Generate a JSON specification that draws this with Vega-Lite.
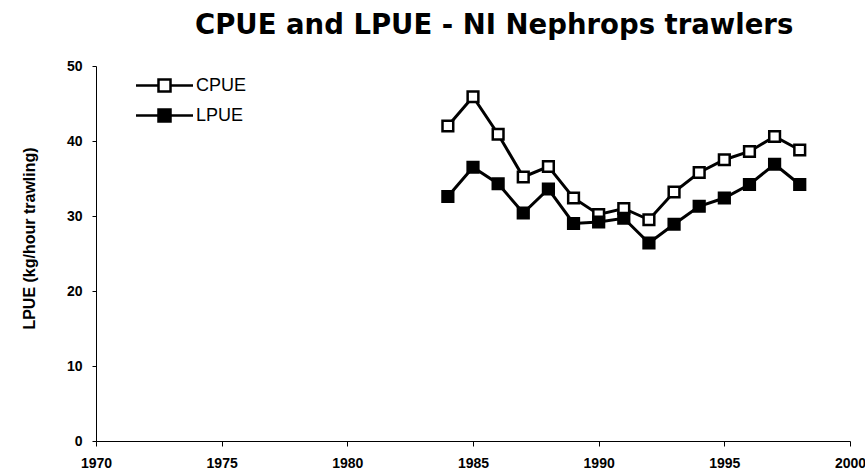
{
  "$schema": "https://vega.github.io/schema/vega-lite/v6.json",
  "width": 754,
  "height": 375,
  "autosize": "none",
  "padding": {"left": 96, "top": 66, "right": 15, "bottom": 33},
  "background": "white",
  "title": {
    "text": "CPUE and LPUE - NI Nephrops  trawlers",
    "anchor": "start",
    "frame": "group",
    "dx": 99,
    "offset": 19.5,
    "font": "DejaVu Sans",
    "fontSize": 27.5,
    "fontWeight": "bold",
    "color": "black"
  },
  "config": {
    "view": {"stroke": null},
    "axis": {
      "labelFont": "Liberation Sans",
      "labelFontSize": 14,
      "labelFontWeight": "bold",
      "labelColor": "black",
      "titleFont": "Liberation Sans",
      "titleColor": "black",
      "domainColor": "black",
      "tickColor": "black",
      "grid": false
    }
  },
  "data": {
    "values": [
      {"year": 1984, "series": "CPUE", "value": 42.0},
      {"year": 1985, "series": "CPUE", "value": 45.9},
      {"year": 1986, "series": "CPUE", "value": 40.9},
      {"year": 1987, "series": "CPUE", "value": 35.2},
      {"year": 1988, "series": "CPUE", "value": 36.6},
      {"year": 1989, "series": "CPUE", "value": 32.4},
      {"year": 1990, "series": "CPUE", "value": 30.2},
      {"year": 1991, "series": "CPUE", "value": 31.0},
      {"year": 1992, "series": "CPUE", "value": 29.5},
      {"year": 1993, "series": "CPUE", "value": 33.2},
      {"year": 1994, "series": "CPUE", "value": 35.8},
      {"year": 1995, "series": "CPUE", "value": 37.5},
      {"year": 1996, "series": "CPUE", "value": 38.6},
      {"year": 1997, "series": "CPUE", "value": 40.6},
      {"year": 1998, "series": "CPUE", "value": 38.8},
      {"year": 1984, "series": "LPUE", "value": 32.6},
      {"year": 1985, "series": "LPUE", "value": 36.5},
      {"year": 1986, "series": "LPUE", "value": 34.3},
      {"year": 1987, "series": "LPUE", "value": 30.4},
      {"year": 1988, "series": "LPUE", "value": 33.6},
      {"year": 1989, "series": "LPUE", "value": 29.0},
      {"year": 1990, "series": "LPUE", "value": 29.2},
      {"year": 1991, "series": "LPUE", "value": 29.7},
      {"year": 1992, "series": "LPUE", "value": 26.4},
      {"year": 1993, "series": "LPUE", "value": 28.9},
      {"year": 1994, "series": "LPUE", "value": 31.3},
      {"year": 1995, "series": "LPUE", "value": 32.4},
      {"year": 1996, "series": "LPUE", "value": 34.2},
      {"year": 1997, "series": "LPUE", "value": 36.9},
      {"year": 1998, "series": "LPUE", "value": 34.2}
    ]
  },
  "encoding": {
    "x": {
      "field": "year",
      "type": "quantitative",
      "scale": {"domain": [1970, 2000], "nice": false, "zero": false},
      "axis": {
        "title": null,
        "values": [1970, 1975, 1980, 1985, 1990, 1995, 2000],
        "format": "d",
        "labelFlush": false,
        "tickSize": 5,
        "labelPadding": 10
      }
    },
    "y": {
      "field": "value",
      "type": "quantitative",
      "scale": {"domain": [0, 50], "nice": false},
      "axis": {
        "title": "LPUE (kg/hour trawling)",
        "titleFontSize": 16,
        "titleFontWeight": "bold",
        "titlePadding": 29,
        "titleY": 172,
        "values": [0, 10, 20, 30, 40, 50],
        "tickSize": 4,
        "labelPadding": 10
      }
    }
  },
  "layer": [
    {
      "mark": {"type": "line", "color": "black", "strokeWidth": 3},
      "encoding": {"detail": {"field": "series"}}
    },
    {
      "mark": {"type": "point", "shape": "square", "filled": true, "size": 115, "stroke": "black", "strokeWidth": 2.5, "opacity": 1},
      "encoding": {
        "fill": {
          "field": "series",
          "type": "nominal",
          "scale": {"domain": ["CPUE", "LPUE"], "range": ["white", "black"]},
          "legend": {
            "title": null,
            "orient": "none",
            "legendX": 55,
            "legendY": 6,
            "symbolType": "M-2.375,0H-0.5M0.5,0H2.375M-0.5,-0.5H0.5V0.5H-0.5Z",
            "symbolSize": 576,
            "symbolStrokeColor": "black",
            "symbolStrokeWidth": 2.5,
            "labelFont": "Liberation Sans",
            "labelFontSize": 18,
            "labelColor": "black",
            "labelOffset": 18,
            "rowPadding": 5
          }
        }
      }
    }
  ]
}
